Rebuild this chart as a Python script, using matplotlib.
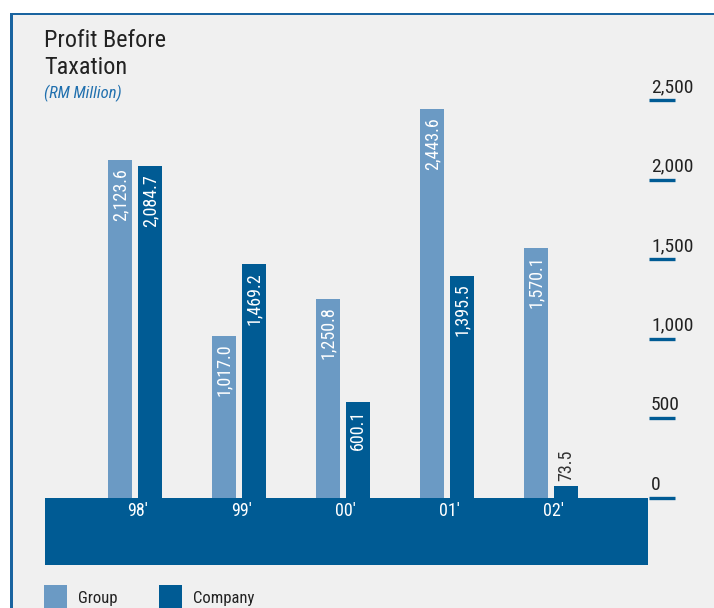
import matplotlib
matplotlib.use("Agg")
import matplotlib.pyplot as plt
from matplotlib import font_manager
from matplotlib.patches import Rectangle
from matplotlib.transforms import blended_transform_factory
import numpy as np

years = ["98'", "99'", "00'", "01'", "02'"]
group = [2123.6, 1017.0, 1250.8, 2443.6, 1570.1]
company = [2084.7, 1469.2, 600.1, 1395.5, 73.5]
group_labels = ["2,123.6", "1,017.0", "1,250.8", "2,443.6", "1,570.1"]
company_labels = ["2,084.7", "1,469.2", "600.1", "1,395.5", "73.5"]
yticks = [0, 500, 1000, 1500, 2000, 2500]
ytick_labels = ["0", "500", "1,000", "1,500", "2,000", "2,500"]

avail = {f.name for f in font_manager.fontManager.ttflist}
fam = "Roboto Condensed" if "Roboto Condensed" in avail else "DejaVu Sans"
plt.rcParams['font.family'] = [fam, 'DejaVu Sans']

W, H = 714, 608
fig = plt.figure(figsize=(W / 100, H / 100), dpi=100)
fig.patch.set_facecolor("white")

C_GROUP = "#6b9ac4"
C_COMP = "#005b94"
C_BORDER = "#1a64a0"
BG = "#f0f0f0"

def fx(px):
    return px / W

def fy(py):
    return 1 - py / H

# background & border
fig.patches.append(Rectangle((fx(10), 0), 1 - fx(10), fy(13), transform=fig.transFigure,
                             facecolor=BG, edgecolor="none", zorder=-5))
fig.patches.append(Rectangle((fx(10), fy(15)), 1 - fx(10), 2 / H, transform=fig.transFigure,
                             facecolor=C_BORDER, edgecolor="none", zorder=-4))
fig.patches.append(Rectangle((fx(10), 0), 3 / W, fy(13), transform=fig.transFigure,
                             facecolor=C_BORDER, edgecolor="none", zorder=-4))

# axes: x 45..648 px, y 565 (bottom) .. 100 (2500)
ax_l, ax_r = 45, 648
ax_t, ax_b = 100, 565
ax = fig.add_axes([fx(ax_l), fy(ax_b), (ax_r - ax_l) / W, (ax_b - ax_t) / H])
ax.set_facecolor("none")
ax.set_zorder(2)
for s in ax.spines.values():
    s.set_visible(False)
ax.set_xticks([])
ax.set_yticks([])

step = 104.0
pair0 = 135.0
xmin = (ax_l - pair0) / step
xmax = (ax_r - pair0) / step
zero_px = 497.5
ppu = (zero_px - ax_t) / 2500.0
ymin = -(ax_b - zero_px) / ppu
ax.set_xlim(xmin, xmax)
ax.set_ylim(ymin, 2500)

x = np.arange(len(years))
bw = 24 / step
off = 15 / step
ax.axhspan(ymin, 0, color=C_COMP, zorder=1, lw=0)
ax.bar(x - off, group, width=bw, color=C_GROUP, zorder=2, lw=0)
ax.bar(x + off, company, width=bw, color=C_COMP, zorder=2, lw=0)

pad = 8 / ppu
for i in range(len(years)):
    ax.text(x[i] - off, group[i] - pad, group_labels[i], rotation=90, ha="center", va="top",
            color="white", fontsize=13, zorder=3)
    if company[i] > 400:
        ax.text(x[i] + off, company[i] - pad, company_labels[i], rotation=90, ha="center", va="top",
                color="white", fontsize=13, zorder=3)
    else:
        ax.text(x[i] + off, company[i] + 5 / ppu, company_labels[i], rotation=90, ha="center",
                va="bottom", color="#333333", fontsize=13, zorder=3)
    ax.text(x[i] + 2.5 / step, -14 / ppu, years[i], ha="center", va="center",
            color="white", fontsize=13, zorder=3)

# right-side ticks
bt = blended_transform_factory(fig.transFigure, ax.transData)
for v, lab in zip(yticks, ytick_labels):
    ax.plot([fx(649), fx(675)], [v, v], transform=bt, color=C_COMP, lw=2.4,
            solid_capstyle="butt", clip_on=False, zorder=3)
    ax.text(fx(651), v + 4 / ppu, lab, transform=bt, ha="left", va="bottom",
            fontsize=14, color="#222222", clip_on=False)

# titles
fig.text(fx(44), fy(47), "Profit Before", fontsize=17.5, color="#222222", ha="left", va="baseline")
fig.text(fx(44), fy(74), "Taxation", fontsize=17.5, color="#222222", ha="left", va="baseline")
fig.text(fx(44), fy(98), "(RM Million)", fontsize=12, color="#1f6fae", style="italic",
         ha="left", va="baseline")

# legend
fig.patches.append(Rectangle((fx(44), 0), 23 / W, fy(585), transform=fig.transFigure,
                             facecolor=C_GROUP, edgecolor="none", zorder=2))
fig.patches.append(Rectangle((fx(159), 0), 23 / W, fy(585), transform=fig.transFigure,
                             facecolor=C_COMP, edgecolor="none", zorder=2))
fig.text(fx(78), fy(598), "Group", fontsize=12, color="#222222", ha="left", va="center")
fig.text(fx(193), fy(598), "Company", fontsize=12, color="#222222", ha="left", va="center")

fig.savefig("out.png", dpi=100, facecolor=fig.get_facecolor())
